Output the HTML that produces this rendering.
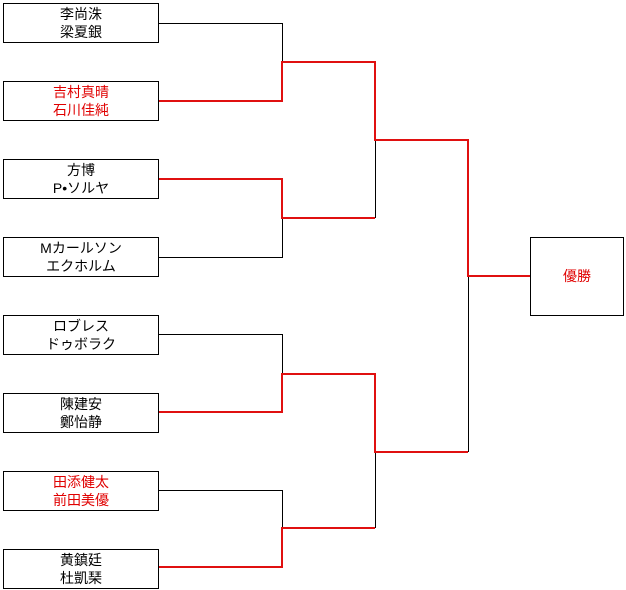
<!DOCTYPE html>
<html><head><meta charset="utf-8"><style>
body{margin:0;background:#fff;width:626px;height:590px;overflow:hidden}
.b{position:absolute;left:3px;width:154px;height:38px;border:1px solid #000;font-family:"Liberation Sans","Noto Sans CJK JP",sans-serif;font-size:14px;line-height:18px;text-align:center;padding-top:1px;box-sizing:content-box;height:37px}
.r{color:#e00000}
</style></head><body>
<svg width="626" height="590" style="position:absolute;left:0;top:0" shape-rendering="crispEdges">
<g fill="none" stroke="#000" stroke-width="1">
<polyline points="158,23.5 282.5,23.5 282.5,62"/>
<polyline points="282.5,179 282.5,257.5 158,257.5"/>
<polyline points="158,334.5 282.5,334.5 282.5,374"/>
<polyline points="158,490.5 282.5,490.5 282.5,528"/>
<polyline points="375.5,140 375.5,218"/>
<polyline points="375.5,452 375.5,528"/>
<polyline points="468.5,276 468.5,452"/>
</g>
<g fill="none" stroke="#e01010" stroke-width="2">
<polyline points="158,101 282,101 282,62 375,62 375,140 468,140 468,276 530,276"/>
<polyline points="158,179 282,179 282,218 375,218"/>
<polyline points="158,412 282,412 282,374 375,374 375,452 468,452"/>
<polyline points="158,567 282,567 282,528 375,528"/>
</g>
</svg>
<div class="b" style="top:3px">李尚洙<br>梁夏銀</div>
<div class="b r" style="top:81px">吉村真晴<br>石川佳純</div>
<div class="b" style="top:159px">方博<br>P•ソルヤ</div>
<div class="b" style="top:237px">Mカールソン<br>エクホルム</div>
<div class="b" style="top:315px">ロブレス<br>ドゥボラク</div>
<div class="b" style="top:393px">陳建安<br>鄭怡静</div>
<div class="b r" style="top:471px">田添健太<br>前田美優</div>
<div class="b" style="top:549px">黄鎮廷<br>杜凱琹</div>
<div class="b r" style="left:530px;top:237px;width:92px;height:77px;padding:0;line-height:77px">優勝</div>
</body></html>
